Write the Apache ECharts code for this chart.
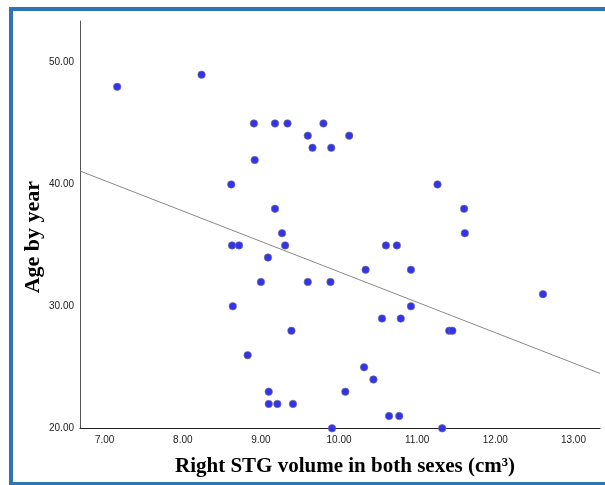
<!DOCTYPE html>
<html>
<head>
<meta charset="utf-8">
<script src="https://cdn.jsdelivr.net/npm/echarts@6/dist/echarts.min.js"></script>
<style>html,body{margin:0;padding:0;background:#fff;}#c{width:605px;height:485px;}</style>
</head>
<body>
<div id="c"></div>
<script>
// Right STG volume (cm3) and age (years)
var volume = [7.16, 8.24, 8.91, 9.18, 9.34, 9.80, 9.60, 10.13, 9.66, 9.90,
  8.92, 8.62, 11.26, 9.18, 11.60, 9.27, 11.61, 8.63, 8.72, 9.31,
  10.60, 10.74, 9.09, 10.34, 10.92, 9.00, 9.60, 9.89, 12.61, 8.64,
  10.92, 10.55, 10.79, 9.39, 11.41, 11.45, 8.83, 10.32, 10.44, 9.10,
  10.08, 9.10, 9.21, 9.41, 10.64, 10.77, 9.91, 11.32];
var age = [48, 49, 45, 45, 45, 45, 44, 44, 43, 43,
  42, 40, 40, 38, 38, 36, 36, 35, 35, 35,
  35, 35, 34, 33, 33, 32, 32, 32, 31, 30,
  30, 29, 29, 28, 28, 28, 26, 25, 24, 23,
  23, 22, 22, 22, 21, 21, 20, 20];
// fit line end points
var fitX = [6.684, 13.34];
var fitY = [41.1, 24.5];
var xTicks = [7, 8, 9, 10, 11, 12, 13];
var yTicks = [20, 30, 40, 50];

var pts = volume.map(function (v, i) { return [v, age[i]]; });
var fit = fitX.map(function (v, i) { return [v, fitY[i]]; });

var chart = echarts.init(document.getElementById('c'), null, {renderer: 'canvas'});
chart.setOption({
  animation: false,
  backgroundColor: '#ffffff',
  grid: {left: 80, right: 5, top: 21, bottom: 56.7, containLabel: false},
  xAxis: {
    type: 'value', min: 6.684, max: 13.34,
    splitLine: {show: false},
    axisLine: {show: true, onZero: false, lineStyle: {color: '#222', width: 1}},
    axisTick: {show: false},
    axisLabel: {
      customValues: xTicks, margin: 7,
      fontFamily: 'Liberation Sans', fontSize: 10, color: '#222',
      formatter: function (v) { return v.toFixed(2); }
    },
    name: 'Right STG volume in both sexes (cm\u00B3)',
    nameLocation: 'middle', nameGap: 28, nameMoveOverlap: false,
    nameTextStyle: {fontFamily: 'Liberation Serif', fontWeight: 'bold', fontSize: 21, color: '#000', padding: [0, 0, 0, 10]}
  },
  yAxis: {
    type: 'value', min: 20, max: 53.4,
    splitLine: {show: false},
    axisLine: {show: true, onZero: false, lineStyle: {color: '#555', width: 1}},
    axisTick: {show: false},
    axisLabel: {
      customValues: yTicks, margin: 6,
      fontFamily: 'Liberation Sans', fontSize: 10, color: '#222',
      formatter: function (v) { return v.toFixed(2); }
    },
    name: 'Age by year',
    nameLocation: 'middle', nameGap: 36, nameMoveOverlap: false,
    nameTextStyle: {fontFamily: 'Liberation Serif', fontWeight: 'bold', fontSize: 22, color: '#000', padding: [0, 25, 0, 0]}
  },
  series: [
    {
      type: 'line', data: fit, symbol: 'none', silent: true, z: 1,
      lineStyle: {color: '#8a8a8a', width: 1}
    },
    {
      type: 'scatter', data: pts, symbol: 'circle', symbolSize: 7.5, z: 2, clip: false,
      itemStyle: {color: '#3333ee', borderColor: '#777', borderWidth: 0.6, opacity: 1}
    }
  ],
  graphic: [
    {
      type: 'line', z: 100, silent: true,
      shape: {x1: 9, y1: 9, x2: 605, y2: 9},
      style: {stroke: '#2E75B6', lineWidth: 4}
    },
    {
      type: 'line', z: 100, silent: true,
      shape: {x1: 11, y1: 7, x2: 11, y2: 485},
      style: {stroke: '#2E75B6', lineWidth: 4}
    },
    {
      type: 'line', z: 100, silent: true,
      shape: {x1: 9, y1: 483.5, x2: 605, y2: 483.5},
      style: {stroke: '#2E75B6', lineWidth: 3}
    }
  ]
});
</script>
</body>
</html>
